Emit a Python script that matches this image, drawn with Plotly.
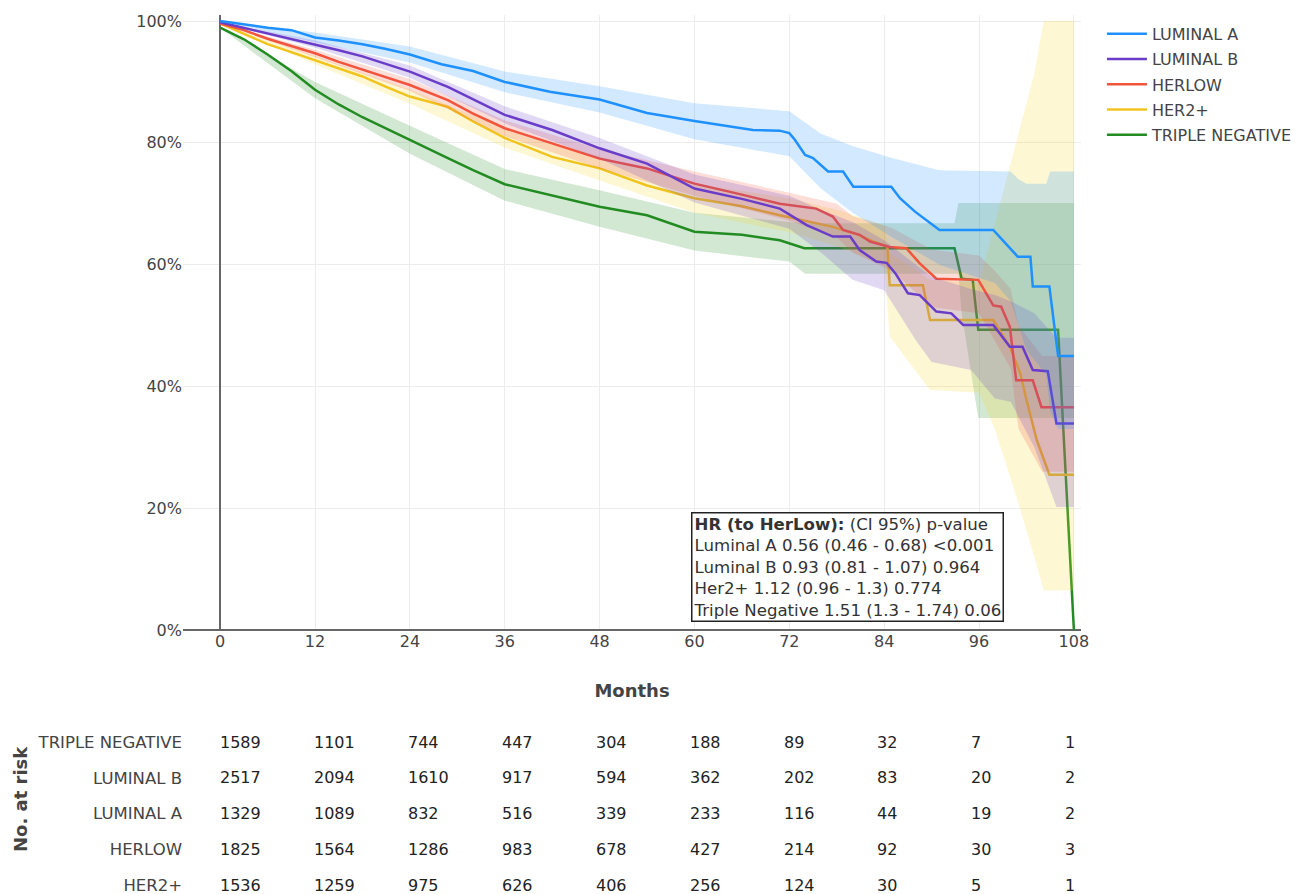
import plotly.graph_objects as go

# ---------------- data ----------------
groups = ["LUMINAL A", "LUMINAL B", "HERLOW", "HER2+", "TRIPLE NEGATIVE"]
colors = ["rgb(30,144,255)", "rgb(106,61,200)", "rgb(242,84,62)", "rgb(240,196,30)", "rgb(34,139,34)"]
fills = ["rgba(30,144,255,0.2)", "rgba(106,61,200,0.2)", "rgba(242,84,62,0.2)", "rgba(245,215,40,0.2)", "rgba(34,139,34,0.2)"]

# Luminal A
la_t = [0, 3, 6, 9, 12, 15, 18, 21, 24, 28, 32, 36, 41.7, 48, 54, 60, 64, 67.4, 70.8, 72, 72.7, 74, 75, 76.9, 78.8, 80.1,
        84.9, 86, 87.9, 89.3, 91, 97.8, 100.9, 102.5, 102.8, 104.9, 106, 108]
la_s = [100, 99.4, 98.9, 98.5, 97.3, 96.8, 96.2, 95.4, 94.5, 92.9, 91.8, 90.0, 88.4, 87.1, 84.9, 83.6, 82.8, 82.1, 82.0, 81.6,
        80.5, 78.0, 77.5, 75.3, 75.3, 72.8, 72.8, 70.9, 68.7, 67.4, 65.7, 65.7, 61.3, 61.3, 56.4, 56.4, 45.0, 45.0]
la_bt = [0, 12, 24, 36, 48, 60, 72, 76, 80, 85, 91, 98, 100, 101, 102, 104.5, 105, 106, 108]
la_hi = [100, 98.1, 95.8, 91.7, 89.3, 86.5, 85.2, 81.5, 79.5, 77.5, 75.5, 75.3, 75.3, 74.0, 73.3, 73.3, 75.3, 75.3, 75.3]
la_lo = [100, 96.5, 93.2, 88.3, 85.0, 80.6, 77.8, 72.5, 68.5, 64.5, 60.0, 57.0, 54.0, 50.0, 46.0, 42.0, 36.0, 33.0, 33.0]

# Luminal B
lb_t = [0, 3, 6, 9, 12, 15, 18, 21, 24, 28.8, 32, 36, 42, 48, 54, 60, 66, 70.8, 74.2, 77.5, 79.7, 80.9, 83, 84.3, 85.4,
        87, 88.5, 90.6, 92.5, 94, 97.8, 99.9, 101.5, 102.8, 104.7, 105.8, 108]
lb_s = [99.8, 98.9, 97.9, 97.0, 96.2, 95.2, 94.2, 93.0, 91.7, 89.2, 87.2, 84.6, 82.1, 79.1, 76.6, 72.5, 70.8, 69.2, 66.5,
        64.6, 64.6, 62.4, 60.5, 60.3, 58.6, 55.3, 55.0, 52.3, 52.0, 50.1, 50.1, 46.5, 46.5, 42.7, 42.5, 33.9, 33.9]
lb_bt = [0, 12, 24, 36, 48, 60, 72, 76, 80, 84, 88, 90, 95, 98, 100, 103, 105.8, 108]
lb_hi = [99.8, 96.8, 92.7, 86.0, 80.8, 74.8, 71.3, 69.0, 67.0, 64.0, 60.0, 58.0, 56.0, 55.0, 54.0, 52.0, 48.0, 48.0]
lb_lo = [99.8, 95.6, 90.7, 83.2, 77.4, 70.2, 65.9, 62.0, 57.5, 55.8, 47.6, 44.0, 42.7, 38.0, 37.5, 30.0, 20.2, 20.2]

# HerLow
hl_t = [0, 3, 6, 9, 12, 15, 18, 21, 24, 28.8, 32, 36, 42, 48, 54, 60, 66, 70.8, 75.4, 77.5, 78.8, 80.9, 82.2, 84.7, 86.8,
        88.5, 90.6, 95.9, 97.8, 98.8, 99.9, 100.7, 102.8, 103.9, 108]
hl_s = [99.6, 98.5, 97.1, 95.9, 94.7, 93.3, 92.0, 90.7, 89.5, 87.0, 84.8, 82.4, 79.9, 77.4, 75.8, 73.3, 71.5, 70.0, 69.2,
        67.9, 65.7, 64.9, 63.8, 62.9, 62.7, 60.2, 57.7, 57.5, 53.3, 53.1, 49.8, 41.0, 41.0, 36.6, 36.6]
hl_bt = [0, 12, 24, 36, 48, 60, 72, 78, 80, 85, 90, 96, 98, 100, 101, 104, 108]
hl_hi = [99.6, 95.3, 90.5, 83.7, 79.0, 75.3, 71.8, 70.0, 68.0, 66.0, 62.5, 61.5, 59.0, 56.0, 50.0, 45.0, 45.0]
hl_lo = [99.6, 94.1, 88.5, 81.1, 75.8, 71.3, 67.2, 64.5, 62.0, 59.0, 53.0, 52.0, 47.5, 43.0, 33.0, 26.0, 26.0]

# HER2+
h2_t = [0, 3, 6, 9, 12, 15, 18, 21, 24, 28.8, 32, 36, 42, 48, 54, 60, 66, 70.8, 74.6, 77.5, 80.5, 82.6, 84.4, 84.7, 88.9,
        89.8, 97.8, 99.9, 101.2, 102, 103.3, 104.9, 108]
h2_s = [99.6, 97.9, 96.2, 94.9, 93.6, 92.3, 90.9, 89.2, 87.6, 85.9, 83.5, 80.8, 77.7, 75.8, 73.0, 70.9, 69.6, 68.1, 67.0,
        66.2, 65.0, 63.8, 63.0, 56.6, 56.6, 50.9, 50.9, 46.5, 42.2, 37.8, 31.2, 25.5, 25.5]
h2_bt = [0, 12, 24, 36, 48, 60, 72, 78, 84, 84.7, 89.8, 96, 98, 100.7, 103, 104.2, 108]
h2_hi = [99.6, 94.3, 88.8, 82.4, 77.8, 73.3, 70.9, 69.0, 66.5, 62.0, 57.5, 57.0, 66.8, 80.0, 91.4, 100, 100]
h2_lo = [99.6, 92.9, 86.4, 79.2, 73.8, 68.5, 65.3, 63.0, 60.0, 48.2, 39.4, 39.0, 33.0, 22.0, 12.0, 6.5, 6.5]

# Triple negative
tn_t = [0, 3, 6, 9, 12, 15, 18, 21, 24, 28.8, 32, 36, 42, 48, 54, 60, 66, 70.8, 73.9, 92.9, 93.8, 95.2, 95.9, 106, 108]
tn_s = [98.9, 97.0, 94.5, 91.8, 88.7, 86.3, 84.2, 82.4, 80.5, 77.5, 75.5, 73.2, 71.4, 69.5, 68.1, 65.4, 64.9, 64.0, 62.7,
        62.7, 57.7, 57.5, 49.3, 49.3, 0]
tn_bt = [0, 12, 24, 36, 48, 60, 72, 74, 92.9, 93.4, 93.8, 95.9, 106, 108]
tn_hi = [98.9, 90.0, 82.8, 75.7, 72.2, 68.5, 67.0, 66.8, 66.8, 70.1, 70.1, 70.1, 70.1, 70.1]
tn_lo = [98.9, 87.3, 78.2, 70.5, 66.2, 62.3, 60.5, 58.5, 58.5, 58.5, 52.0, 34.8, 34.8, 34.8]

series = [
    (la_t, la_s, la_bt, la_hi, la_lo),
    (lb_t, lb_s, lb_bt, lb_hi, lb_lo),
    (hl_t, hl_s, hl_bt, hl_hi, hl_lo),
    (h2_t, h2_s, h2_bt, h2_hi, h2_lo),
    (tn_t, tn_s, tn_bt, tn_hi, tn_lo),
]

month_ticks = [0, 12, 24, 36, 48, 60, 72, 84, 96, 108]
pct_ticks = [0, 20, 40, 60, 80, 100]
pct_labels = ["0%", "20%", "40%", "60%", "80%", "100%"]
risk_rows = ["TRIPLE NEGATIVE", "LUMINAL B", "LUMINAL A", "HERLOW", "HER2+"]
risk_tn = [1589, 1101, 744, 447, 304, 188, 89, 32, 7, 1]
risk_lb = [2517, 2094, 1610, 917, 594, 362, 202, 83, 20, 2]
risk_la = [1329, 1089, 832, 516, 339, 233, 116, 44, 19, 2]
risk_hl = [1825, 1564, 1286, 983, 678, 427, 214, 92, 30, 3]
risk_h2 = [1536, 1259, 975, 626, 406, 256, 124, 30, 5, 1]
risk_values = [risk_tn, risk_lb, risk_la, risk_hl, risk_h2]

hr_lines = [
    "<b>HR (to HerLow):</b> (CI 95%) p-value",
    "Luminal A 0.56 (0.46 - 0.68) <0.001",
    "Luminal B 0.93 (0.81 - 1.07) 0.964",
    "Her2+ 1.12 (0.96 - 1.3) 0.774",
    "Triple Negative 1.51 (1.3 - 1.74) 0.06",
]

FONT = "DejaVu Sans, Verdana, sans-serif"

# ---------------- figure ----------------
fig = go.Figure()

# draw in reverse so that later groups' bands tint earlier lines like the reference
for idx in range(len(groups) - 1, -1, -1):
    name, col, fc = groups[idx], colors[idx], fills[idx]
    t, s, bt, hi, lo = series[idx]
    fig.add_trace(go.Scatter(x=bt + bt[::-1], y=hi + lo[::-1], mode="lines", fill="toself",
                             fillcolor=fc, line=dict(width=0), showlegend=False, legendgroup=name,
                             hoverinfo="skip", xaxis="x", yaxis="y"))
    fig.add_trace(go.Scatter(x=t, y=s, mode="lines", name=name, legendgroup=name, legendrank=idx + 1,
                             line=dict(color=col, width=2.5), xaxis="x", yaxis="y"))

n_rows = len(risk_rows)
annotations = []
for i, (row, vals) in enumerate(zip(risk_rows, risk_values)):
    yv = n_rows - 1 - i
    for m, v in zip(month_ticks, vals):
        annotations.append(dict(x=m, y=yv, xref="x2", yref="y2", text=str(v), showarrow=False,
                                xanchor="left", yanchor="middle",
                                font=dict(family=FONT, size=16, color="#222")))

annotations.append(dict(x=59.5, y=1.3, xref="x", yref="y", xanchor="left", yanchor="bottom",
                        text="<br>".join(hr_lines), showarrow=False, align="left",
                        bgcolor="white", bordercolor="#222", borderwidth=1.5, borderpad=1,
                        font=dict(family=FONT, size=16.6, color="#333")))

# rotated title of the risk table
annotations.append(dict(x=-0.1804, y=0.1081, xref="paper", yref="paper", text="<b>No. at risk</b>",
                        textangle=-90, showarrow=False, xanchor="center", yanchor="middle",
                        font=dict(family=FONT, size=18, color="#444")))

fig.update_layout(
    width=1296, height=894,
    margin=dict(l=183, r=215, t=15, b=0, autoexpand=False),
    paper_bgcolor="white", plot_bgcolor="white",
    font=dict(family=FONT, size=16, color="#444"),
    showlegend=True,
    legend=dict(x=1.0233, y=0.998, xanchor="left", yanchor="top", tracegroupgap=1.5, itemwidth=40,
                font=dict(family=FONT, size=16, color="#444"), bgcolor="rgba(0,0,0,0)"),
    xaxis=dict(domain=[0, 1], anchor="y", range=[-4.7, 108.9], tickvals=month_ticks,
               showgrid=True, gridcolor="#ececec", gridwidth=1, automargin=False,
               zeroline=True, zerolinecolor="#666", zerolinewidth=2,
               showline=False, ticks="", tickfont=dict(size=16, color="#444"),
               title=dict(text="<b>Months</b>", font=dict(size=18, color="#444"), standoff=34)),
    yaxis=dict(domain=[0.3003, 1], anchor="x", range=[0, 100.99], tickvals=pct_ticks, ticktext=pct_labels,
               showgrid=True, gridcolor="#ececec", gridwidth=1, automargin=False,
               zeroline=True, zerolinecolor="#666", zerolinewidth=2,
               showline=False, ticks="", tickfont=dict(size=16, color="#444")),
    xaxis2=dict(domain=[0, 1], anchor="y2", range=[-4.45, 110.25], visible=False, fixedrange=True),
    yaxis2=dict(domain=[0, 0.1934], anchor="x2", range=[-0.2517, 4.5035], automargin=False,
                tickvals=list(range(n_rows - 1, -1, -1)), ticktext=risk_rows, ticklabeloverflow="allow",
                showgrid=False, zeroline=False, showline=False, ticks="",
                tickfont=dict(size=16.5, color="#444")),
    annotations=annotations,
)

fig.write_html("out.html", config={"displayModeBar": False},
               post_script="document.body.style.margin='0px';document.body.style.overflow='hidden';")
